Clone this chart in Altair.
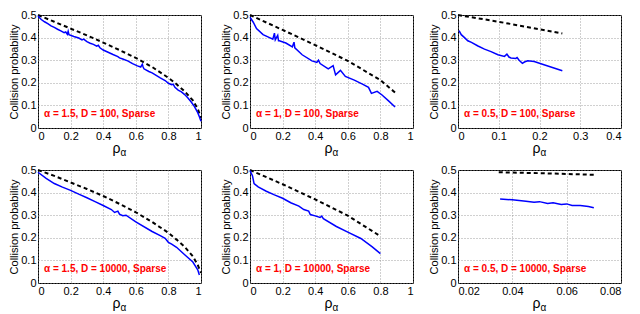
import altair as alt
import pandas as pd

# ---------------- data ----------------
# Panel 1: alpha = 1.5, D = 100
p1_bx = [0.00, 0.02, 0.04, 0.06, 0.08, 0.10, 0.12, 0.14, 0.16, 0.17, 0.18, 0.185, 0.19, 0.22, 0.25, 0.27, 0.28,
         0.30, 0.32, 0.34, 0.36, 0.37, 0.38, 0.40, 0.43, 0.46, 0.49, 0.50, 0.52, 0.55, 0.58, 0.61, 0.63, 0.64,
         0.645, 0.65, 0.68, 0.70, 0.72, 0.75, 0.78, 0.80, 0.82, 0.83, 0.84, 0.86, 0.88, 0.90, 0.92, 0.94, 0.96,
         0.98, 0.99, 1.00]
p1_by = [0.495, 0.48, 0.47, 0.462, 0.452, 0.445, 0.437, 0.43, 0.422, 0.425, 0.415, 0.428, 0.413, 0.405, 0.398,
         0.39, 0.393, 0.382, 0.375, 0.37, 0.362, 0.366, 0.355, 0.345, 0.335, 0.325, 0.316, 0.31, 0.305, 0.297,
         0.285, 0.275, 0.27, 0.282, 0.27, 0.262, 0.25, 0.244, 0.235, 0.222, 0.21, 0.198, 0.192, 0.193, 0.18,
         0.168, 0.16, 0.148, 0.133, 0.115, 0.095, 0.068, 0.05, 0.03]
p1_dx = [0.0, 0.1, 0.2, 0.3, 0.4, 0.5, 0.6, 0.7, 0.8, 0.85, 0.9, 0.95, 0.98, 1.0]
p1_dy = [0.5, 0.47, 0.44, 0.41, 0.378, 0.345, 0.31, 0.27, 0.222, 0.194, 0.162, 0.122, 0.085, 0.045]

# Panel 2: alpha = 1, D = 100
p2_bx = [0.0, 0.02, 0.04, 0.08, 0.12, 0.14, 0.15, 0.155, 0.17, 0.175, 0.18, 0.22, 0.26, 0.27, 0.275, 0.32, 0.38,
         0.41, 0.42, 0.43, 0.48, 0.51, 0.525, 0.555, 0.585, 0.64, 0.69, 0.727, 0.745, 0.78, 0.81, 0.85, 0.89]
p2_by = [0.49, 0.468, 0.44, 0.413, 0.4, 0.393, 0.42, 0.39, 0.41, 0.386, 0.386, 0.376, 0.359, 0.38, 0.355, 0.324,
         0.297, 0.29, 0.3, 0.285, 0.262, 0.276, 0.235, 0.255, 0.228, 0.212, 0.194, 0.18, 0.153, 0.162, 0.146,
         0.12, 0.093]
p2_dx = [0.0, 0.2, 0.4, 0.6, 0.8, 0.89]
p2_dy = [0.5, 0.434, 0.367, 0.297, 0.212, 0.157]

# Panel 3: alpha = 0.5, D = 100
p3_bx = [0.0025, 0.008, 0.016, 0.024, 0.033, 0.049, 0.065, 0.081, 0.098, 0.114, 0.12, 0.125, 0.13, 0.142,
         0.145, 0.15, 0.158, 0.163, 0.171, 0.187, 0.211, 0.256]
p3_by = [0.431, 0.413, 0.4, 0.386, 0.379, 0.363, 0.349, 0.338, 0.324, 0.317, 0.327, 0.314, 0.31, 0.308, 0.312,
         0.3, 0.286, 0.292, 0.297, 0.294, 0.28, 0.253]
p3_dx = [0.0, 0.1, 0.2, 0.256]
p3_dy = [0.5, 0.47, 0.437, 0.418]

# Panel 4: alpha = 1.5, D = 10000
p4_bx = [0.0, 0.05, 0.1, 0.15, 0.2, 0.25, 0.3, 0.35, 0.4, 0.45, 0.47, 0.49, 0.5, 0.52, 0.54, 0.6, 0.7, 0.75,
         0.78, 0.8, 0.82, 0.85, 0.9, 0.95, 0.98, 0.99]
p4_by = [0.49, 0.463, 0.44, 0.424, 0.41, 0.393, 0.377, 0.36, 0.343, 0.325, 0.312, 0.318, 0.305, 0.298, 0.3,
         0.27, 0.228, 0.21, 0.198, 0.18, 0.172, 0.158, 0.125, 0.093, 0.058, 0.035]
p4_dx = [0.0, 0.1, 0.2, 0.3, 0.4, 0.5, 0.6, 0.7, 0.8, 0.85, 0.9, 0.95, 0.98, 1.0]
p4_dy = [0.5, 0.474, 0.445, 0.416, 0.385, 0.35, 0.313, 0.27, 0.222, 0.192, 0.16, 0.118, 0.08, 0.045]

# Panel 5: alpha = 1, D = 10000
p5_bx = [0.0, 0.015, 0.025, 0.05, 0.1, 0.15, 0.2, 0.25, 0.3, 0.33, 0.36, 0.37, 0.4, 0.43, 0.44, 0.45, 0.53,
         0.6, 0.68, 0.75, 0.8]
p5_by = [0.497, 0.475, 0.44, 0.425, 0.406, 0.39, 0.375, 0.355, 0.34, 0.325, 0.318, 0.303, 0.297, 0.29, 0.296,
         0.285, 0.25, 0.225, 0.197, 0.16, 0.13]
p5_dx = [0.0, 0.2, 0.4, 0.6, 0.8]
p5_dy = [0.5, 0.437, 0.37, 0.298, 0.207]

# Panel 6: alpha = 0.5, D = 10000
p6_bx = [0.0355, 0.04, 0.045, 0.048, 0.05, 0.053, 0.055, 0.058, 0.06, 0.062, 0.065, 0.068, 0.07]
p6_by = [0.372, 0.368, 0.362, 0.357, 0.36, 0.352, 0.355, 0.347, 0.35, 0.343, 0.343, 0.338, 0.333]
p6_dx = [0.035, 0.05, 0.07]
p6_dy = [0.49, 0.486, 0.479]

labels = ["α = 1.5, D = 100, Sparse", "α = 1, D = 100, Sparse", "α = 0.5, D = 100, Sparse",
          "α = 1.5, D = 10000, Sparse", "α = 1, D = 10000, Sparse", "α = 0.5, D = 10000, Sparse"]
x_domains = [[0, 1], [0, 1], [0, 0.4], [0, 1], [0, 1], [0.02, 0.08]]
x_ticks = [[0, 0.2, 0.4, 0.6, 0.8, 1], [0, 0.2, 0.4, 0.6, 0.8, 1], [0, 0.1, 0.2, 0.3, 0.4],
           [0, 0.2, 0.4, 0.6, 0.8, 1], [0, 0.2, 0.4, 0.6, 0.8, 1], [0.02, 0.04, 0.06, 0.08]]
y_ticks = [0, 0.1, 0.2, 0.3, 0.4, 0.5]

W, H = 163, 113
FONT = "Liberation Sans"


def panel(bx, by, dx, dy, dom, ticks, label):
    xs = alt.X("x:Q", scale=alt.Scale(domain=dom, nice=False, zero=False),
               axis=alt.Axis(values=ticks, format="~g", title=None, grid=True))
    ys = alt.Y("y:Q", scale=alt.Scale(domain=[0, 0.5], nice=False),
               axis=alt.Axis(values=y_ticks, format="~g", title="Collision probability", grid=True))
    blue = alt.Chart(pd.DataFrame({"x": bx, "y": by})).mark_line(
        color="#0000FF", strokeWidth=1.5).encode(x=xs, y=ys)
    dash = alt.Chart(pd.DataFrame({"x": dx, "y": dy})).mark_line(
        color="black", strokeWidth=2, strokeDash=[4, 3]).encode(x=xs, y=ys)
    lab = alt.Chart(pd.DataFrame({"t": [label]})).mark_text(
        color="#FF0000", fontWeight="bold", fontSize=10, font=FONT, align="left", baseline="alphabetic"
    ).encode(text="t:N", x=alt.value(6), y=alt.value(H - 11))
    rho = alt.Chart(pd.DataFrame({"t": ["ρ"]})).mark_text(
        fontSize=14, font=FONT, align="right", baseline="alphabetic", color="black"
    ).encode(text="t:N", x=alt.value(W / 2 + 1), y=alt.value(H + 25))
    sub = alt.Chart(pd.DataFrame({"t": ["α"]})).mark_text(
        fontSize=10, font=FONT, align="left", baseline="alphabetic", color="black"
    ).encode(text="t:N", x=alt.value(W / 2 + 1), y=alt.value(H + 28))
    return alt.layer(dash, blue, lab, rho, sub).properties(width=W, height=H)


data = [(p1_bx, p1_by, p1_dx, p1_dy), (p2_bx, p2_by, p2_dx, p2_dy), (p3_bx, p3_by, p3_dx, p3_dy),
        (p4_bx, p4_by, p4_dx, p4_dy), (p5_bx, p5_by, p5_dx, p5_dy), (p6_bx, p6_by, p6_dx, p6_dy)]
panels = [panel(*d, x_domains[i], x_ticks[i], labels[i]) for i, d in enumerate(data)]

row1 = alt.hconcat(*panels[:3], spacing=14)
row2 = alt.hconcat(*panels[3:], spacing=14)
chart = alt.vconcat(row1, row2, spacing=4).properties(
    padding={"left": 0, "top": 0, "right": 0, "bottom": 0}
).configure_view(
    stroke="black", strokeWidth=1
).configure_axis(
    domain=False, ticks=False, labelFont=FONT, labelFontSize=11, labelColor="black", labelPadding=2,
    titleFont=FONT, titleFontSize=11, titleFontWeight="normal", titleColor="black", titlePadding=1,
    gridColor="#888888", gridDash=[1, 2], gridWidth=0.8, gridOpacity=1
)

chart.save("out.html", embed_options={"renderer": "svg", "actions": False})
